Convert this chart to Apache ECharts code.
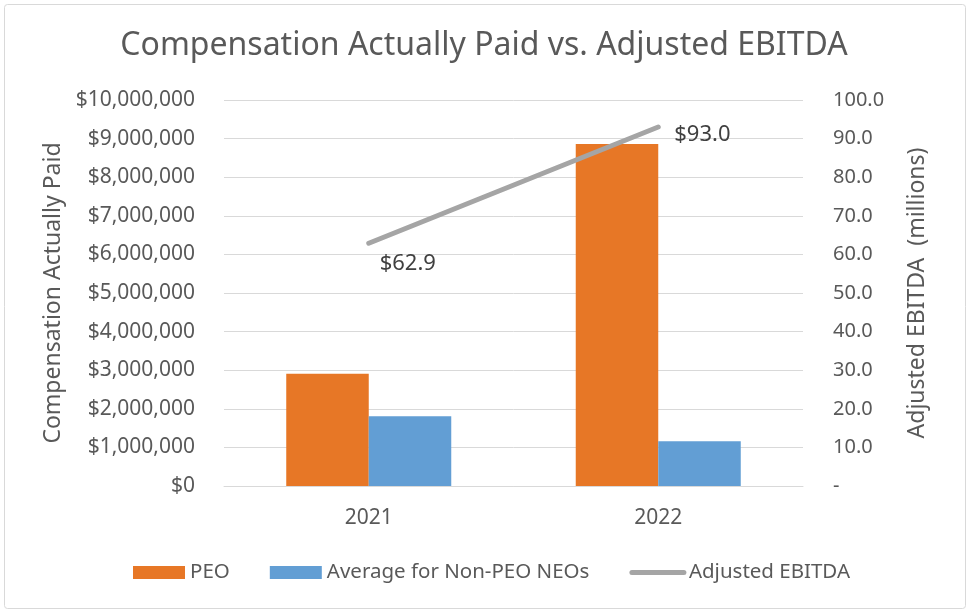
<!DOCTYPE html>
<html>
<head>
<meta charset="utf-8">
<script src="https://cdn.jsdelivr.net/npm/echarts@6/dist/echarts.min.js"></script>
<style>
html,body{margin:0;padding:0;background:#fff;}
#c{width:968px;height:610px;}
</style>
</head>
<body>
<div id="c"></div>
<script>
const years = ['2021', '2022'];
const peo = [2910000, 8860000];
const nonPeo = [1810000, 1160000];
const ebitda = [62.9, 93.0];
const ebitdaLabels = ['$62.9', '$93.0'];

const FONT = 'Noto Sans';
const GREY = '#595959';

const chart = echarts.init(document.getElementById('c'), null, {renderer: 'canvas'});
chart.setOption({
  animation: false,
  backgroundColor: '#fff',
  textStyle: {fontFamily: FONT},
  graphic: [{
    type: 'rect', left: 2, top: 2, silent: true,
    shape: {width: 961, height: 604, r: 3},
    style: {fill: 'none', stroke: '#D9D9D9', lineWidth: 1}
  }],
  title: {
    text: 'Compensation Actually Paid vs. Adjusted EBITDA',
    left: 'center', top: 25,
    textStyle: {fontFamily: FONT, fontSize: 32, fontWeight: 'normal', color: GREY}
  },
  grid: {left: 224, right: 165, top: 100, bottom: 124, containLabel: false},
  legend: {
    left: 128, top: 557,
    itemWidth: 52, itemHeight: 13, itemGap: 40,
    textStyle: {fontFamily: FONT, fontSize: 20.5, color: GREY},
    data: [
      {name: 'PEO', icon: 'rect'},
      {name: 'Average for Non-PEO NEOs', icon: 'rect'},
      {name: 'Adjusted EBITDA', itemStyle: {opacity: 0}, lineStyle: {width: 5, color: '#A5A5A5', cap: 'round'}}
    ]
  },
  xAxis: {
    type: 'category', data: years,
    axisLine: {show: true, lineStyle: {color: '#D9D9D9', width: 1}},
    axisTick: {show: false},
    axisLabel: {fontFamily: FONT, fontSize: 21, color: GREY, margin: 22}
  },
  yAxis: [{
    type: 'value', min: 0, max: 10000000, interval: 1000000,
    name: 'Compensation Actually Paid', nameLocation: 'middle', nameGap: 158, nameRotate: 90,
    nameTextStyle: {fontFamily: FONT, fontSize: 23, color: GREY},
    axisLine: {show: false}, axisTick: {show: false},
    splitLine: {lineStyle: {color: '#D9D9D9', width: 1}},
    axisLabel: {
      fontFamily: FONT, fontSize: 21, color: GREY, margin: 29,
      formatter: v => '$' + v.toLocaleString('en-US')
    }
  }, {
    type: 'value', min: 0, max: 100, interval: 10, position: 'right',
    name: 'Adjusted EBITDA  (millions)', nameLocation: 'middle', nameGap: 103, nameRotate: 90,
    nameTextStyle: {fontFamily: FONT, fontSize: 23, color: GREY},
    axisLine: {show: false}, axisTick: {show: false},
    splitLine: {show: false},
    axisLabel: {
      fontFamily: FONT, fontSize: 20, color: GREY, margin: 30, align: 'left',
      formatter: v => v === 0 ? '-' : v.toFixed(1)
    }
  }],
  series: [{
    name: 'PEO', type: 'bar', data: peo, yAxisIndex: 0,
    barGap: '0%', barCategoryGap: '43%',
    itemStyle: {color: '#E77726'}
  }, {
    name: 'Average for Non-PEO NEOs', type: 'bar', data: nonPeo, yAxisIndex: 0,
    barGap: '0%', barCategoryGap: '43%',
    itemStyle: {color: '#629ED4'}
  }, {
    name: 'Adjusted EBITDA', type: 'line', yAxisIndex: 1,
    symbol: 'circle', symbolSize: 2,
    itemStyle: {color: '#A5A5A5'},
    lineStyle: {color: '#A5A5A5', width: 5, cap: 'round'},
    data: ebitda.map((v, i) => ({
      value: v,
      label: {
        show: true,
        formatter: ebitdaLabels[i],
        fontFamily: FONT, fontSize: 22, color: '#404040',
        position: i === 0 ? 'bottom' : 'right',
        offset: i === 0 ? [39, 4] : [10, 8]
      }
    }))
  }]
});
</script>
</body>
</html>
